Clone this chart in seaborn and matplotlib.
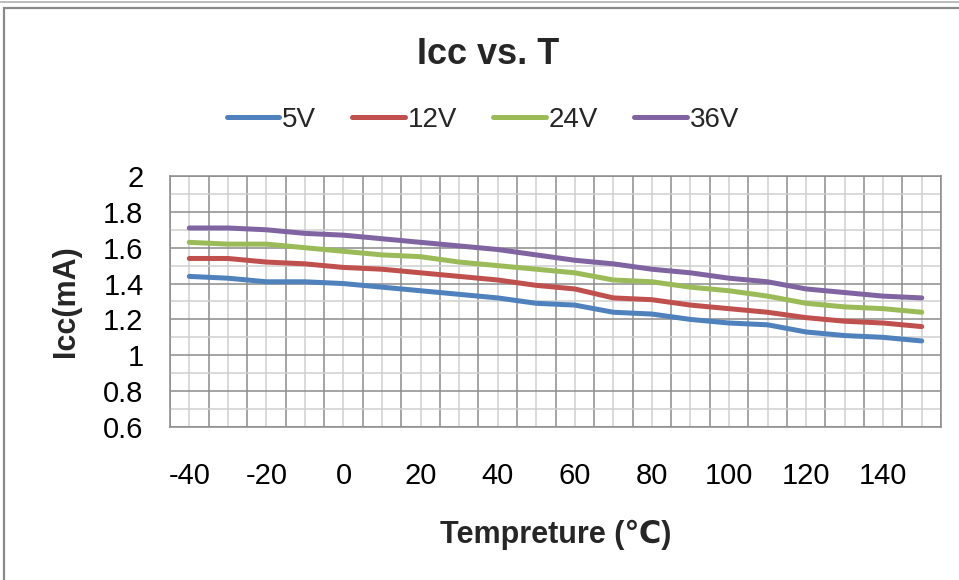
import numpy as np
import pandas as pd
import seaborn as sns
import matplotlib.pyplot as plt
from matplotlib.patches import Rectangle
from matplotlib.ticker import FixedLocator, MultipleLocator

# Temperature categories (Excel category axis, one point per 10 degrees)
temps = [-40, -30, -20, -10, 0, 10, 20, 30, 40, 50,
         60, 70, 80, 90, 100, 110, 120, 130, 140, 150]

# Icc (mA)
icc_5v = [1.44, 1.43, 1.41, 1.41, 1.40, 1.38, 1.36, 1.34, 1.32, 1.29,
          1.28, 1.24, 1.23, 1.20, 1.18, 1.17, 1.13, 1.11, 1.10, 1.08]
icc_12v = [1.54, 1.54, 1.52, 1.51, 1.49, 1.48, 1.46, 1.44, 1.42, 1.39,
           1.37, 1.32, 1.31, 1.28, 1.26, 1.24, 1.21, 1.19, 1.18, 1.16]
icc_24v = [1.63, 1.62, 1.62, 1.60, 1.58, 1.56, 1.55, 1.52, 1.50, 1.48,
           1.46, 1.42, 1.41, 1.38, 1.36, 1.33, 1.29, 1.27, 1.26, 1.24]
icc_36v = [1.71, 1.71, 1.70, 1.68, 1.67, 1.65, 1.63, 1.61, 1.59, 1.56,
           1.53, 1.51, 1.48, 1.46, 1.43, 1.41, 1.37, 1.35, 1.33, 1.32]

series = {"5V": icc_5v, "12V": icc_12v, "24V": icc_24v, "36V": icc_36v}
palette = {"5V": "#4F81BD", "12V": "#C0504D", "24V": "#9BBB59", "36V": "#8064A2"}

# long-form table, x is the category position
rows = []
for name, vals in series.items():
    for i, v in enumerate(vals):
        rows.append({"pos": i, "temp": temps[i], "Icc": v, "supply": name})
df = pd.DataFrame(rows)

sns.set_style("white")
plt.rcParams["font.family"] = ["Liberation Sans", "DejaVu Sans", "Noto Sans CJK SC"]

fig = plt.figure(figsize=(9.59, 5.8), dpi=100)
ax = fig.add_axes([170 / 959, 1 - 427 / 580, 771 / 959, 251 / 580])

sns.lineplot(data=df, x="pos", y="Icc", hue="supply", palette=palette,
             linewidth=3.6, ax=ax, legend=False, solid_capstyle="round")

# x: categories centred on integers, boundaries get the dark grid
n = len(temps)
ax.set_xlim(-0.5, n - 0.5)
ax.xaxis.set_major_locator(FixedLocator(range(n)))
ax.set_xticklabels([str(t) if i % 2 == 0 else "" for i, t in enumerate(temps)])
ax.xaxis.set_minor_locator(FixedLocator(np.arange(-0.5, n, 1.0)))

ax.set_ylim(0.6, 2.0)
ax.yaxis.set_major_locator(MultipleLocator(0.2))
ax.yaxis.set_minor_locator(MultipleLocator(0.1))
ax.set_yticklabels([f"{v:g}" for v in ax.get_yticks()])

ax.grid(False)
ax.grid(True, which="minor", axis="x", color="#8c8c8c", linewidth=1.1)
ax.grid(True, which="major", axis="x", color="#cfcfcf", linewidth=1.1)
ax.grid(True, which="major", axis="y", color="#8c8c8c", linewidth=1.1)
ax.grid(True, which="minor", axis="y", color="#cfcfcf", linewidth=1.1)
ax.set_axisbelow(True)

ax.tick_params(axis="both", which="both", length=0)
ax.tick_params(axis="x", labelsize=21, pad=25, colors="black")
ax.tick_params(axis="y", labelsize=21, pad=19, colors="black")
for s in ax.spines.values():
    s.set_color("#8c8c8c")
    s.set_linewidth(1.1)

ax.set_xlabel("Tempreture (℃)", fontsize=22, fontweight="bold", labelpad=22)
ax.set_ylabel("Icc(mA)", fontsize=22, fontweight="bold", labelpad=16)

fig.text(488 / 959, 1 - 55 / 580, "Icc vs. T", fontsize=26, fontweight="bold",
         ha="center", va="center")

handles = [plt.Line2D([], [], color=palette[k], linewidth=3.6, solid_capstyle="round")
           for k in series]
fig.legend(handles, list(series), loc="center", ncol=4, frameon=False,
           bbox_to_anchor=(483 / 959, 1 - 120 / 580), fontsize=20,
           handlelength=1.9, handletextpad=0.1, columnspacing=1.3)

# chart frame
fig.add_artist(Rectangle((4 / 959, -0.05), 1.0, 1 - 8 / 580 + 0.05,
                         transform=fig.transFigure, fill=False,
                         edgecolor="#8a8a8a", linewidth=1.6))
fig.add_artist(plt.Line2D([0, 1], [1 - 2 / 580, 1 - 2 / 580],
                          transform=fig.transFigure, color="#b0b0b0", linewidth=1.2))

fig.savefig("out.png", dpi=100)
